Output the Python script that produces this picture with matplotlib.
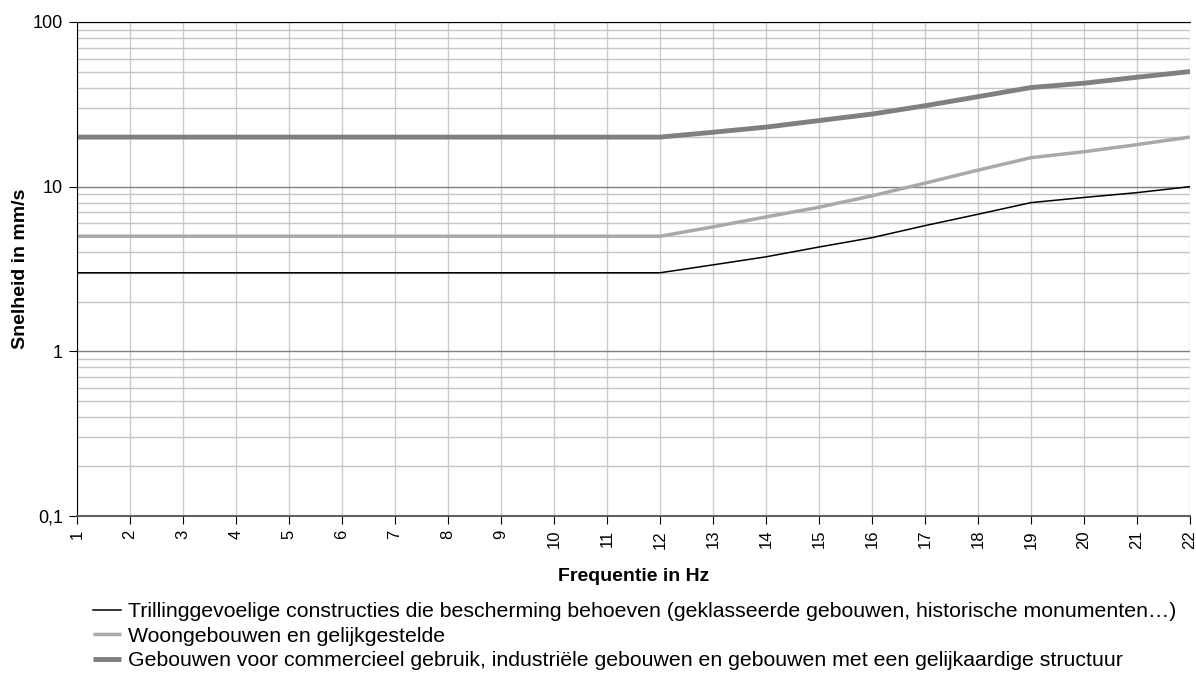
import matplotlib
matplotlib.use("Agg")
import matplotlib.pyplot as plt
from matplotlib.ticker import FixedLocator, LogLocator, NullFormatter

plt.rcParams["font.family"] = ["Liberation Sans", "DejaVu Sans"]

# data
freq = list(range(1, 23))
sensitive = [3] * 12 + [3.35, 3.75, 4.3, 4.9, 5.8, 6.8, 8.0, 8.6, 9.2, 10]
housing = [5] * 12 + [5.7, 6.55, 7.5, 8.8, 10.5, 12.6, 15.0, 16.3, 18.0, 20]
commercial = [20] * 12 + [21.4, 23.0, 25.2, 27.6, 31.0, 35.2, 40.0, 42.5, 46.2, 50]

labels = [
    "Trillinggevoelige constructies die bescherming behoeven (geklasseerde gebouwen, historische monumenten\u2026)",
    "Woongebouwen en gelijkgestelde",
    "Gebouwen voor commercieel gebruik, industri\u00eble gebouwen en gebouwen met een gelijkaardige structuur",
]
y_ticks = [0.1, 1, 10, 100]
y_ticklabels = ["0,1", "1", "10", "100"]

fig = plt.figure(figsize=(11.96, 6.91), dpi=100)
ax = fig.add_axes([77 / 1196, 1 - 516 / 691, (1190 - 77) / 1196, (516 - 22) / 691])

ax.set_yscale("log")
ax.set_xlim(1, 22)
ax.set_ylim(0.1, 100)

# grid
ax.yaxis.set_major_locator(FixedLocator(y_ticks))
ax.yaxis.set_minor_locator(LogLocator(base=10, subs=range(2, 10)))
ax.yaxis.set_minor_formatter(NullFormatter())
ax.set_yticklabels(y_ticklabels)
ax.grid(True, which="major", axis="y", color="#7f7f7f", linewidth=1.0)
ax.grid(True, which="minor", axis="y", color="#c4c4c4", linewidth=1.0)
ax.set_xticks(freq)
ax.set_xticklabels([str(f) for f in freq], rotation=90)
ax.grid(True, which="major", axis="x", color="#cccccc", linewidth=1.0)
ax.set_axisbelow(True)

ax.plot(freq, commercial, color="#808080", linewidth=3.5, label=labels[2], solid_capstyle="butt")
ax.plot(freq, housing, color="#a9a9a9", linewidth=2.5, label=labels[1], solid_capstyle="butt")
ax.plot(freq, sensitive, color="black", linewidth=1.1, label=labels[0])

ax.spines["right"].set_visible(False)
ax.spines["top"].set_color("black")
ax.spines["left"].set_color("black")
ax.spines["bottom"].set_color("#606060")
ax.spines["bottom"].set_linewidth(1.5)

ax.tick_params(axis="y", which="minor", length=0)
ax.tick_params(axis="y", which="major", length=6, labelsize=13, pad=4)
ax.tick_params(axis="x", length=6, labelsize=12, pad=4)

ax.set_xlabel("Frequentie in Hz", fontsize=14, fontweight="bold", labelpad=14)
ax.set_ylabel("Snelheid in mm/s", fontsize=14, fontweight="bold", labelpad=3)

handles, labs = ax.get_legend_handles_labels()
order = [2, 1, 0]
fig.legend([handles[i] for i in order], [labs[i] for i in order],
           loc="upper left", bbox_to_anchor=(93 / 1196, 1 - 602 / 691),
           frameon=False, fontsize=15.3, handlelength=1.3, handletextpad=0.35,
           labelspacing=0.26, borderaxespad=0, borderpad=0)

plt.savefig("out.png", dpi=100)
plt.close()
